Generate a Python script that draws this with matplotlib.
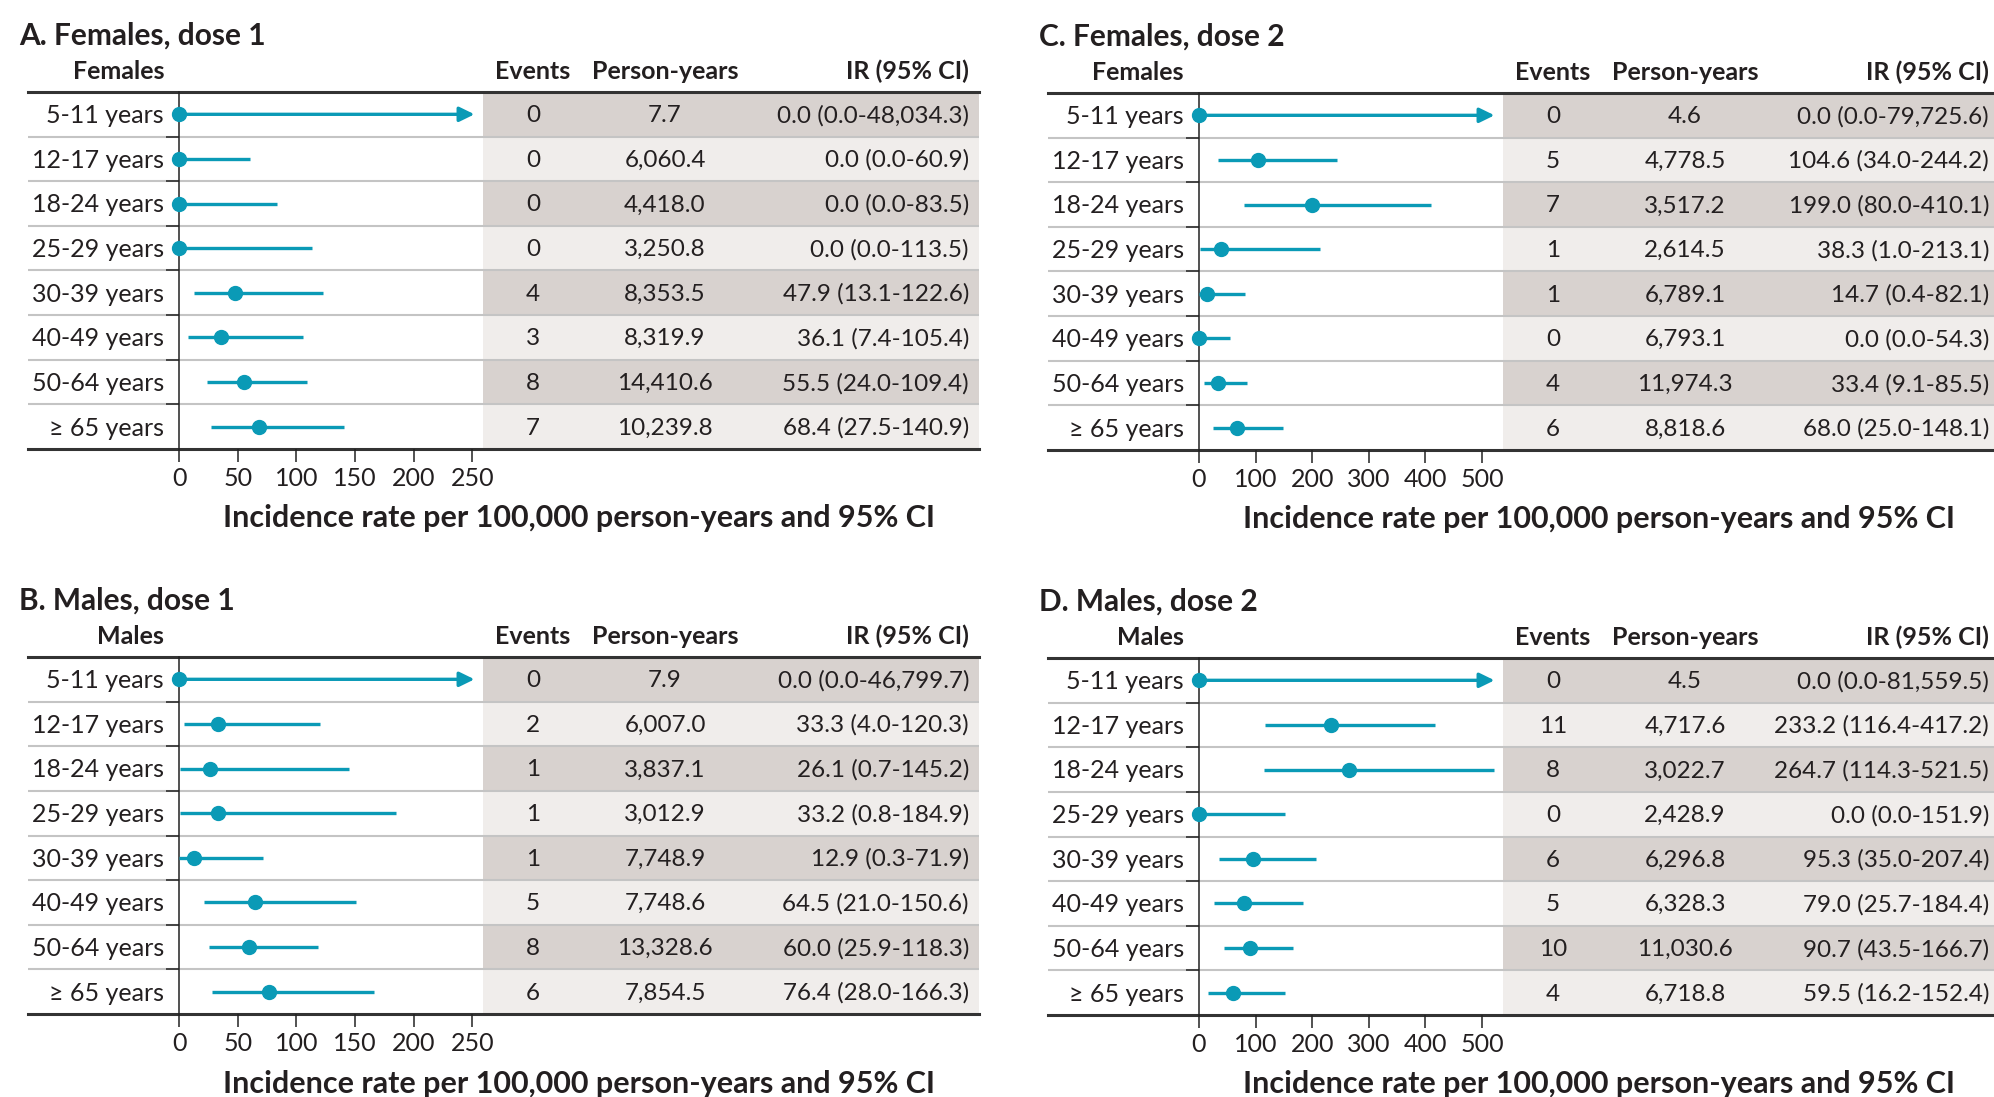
import matplotlib
matplotlib.use("Agg")
import matplotlib.pyplot as plt

plt.rcParams['font.family'] = ['Lato', 'DejaVu Sans']

W, H = 1994, 1097
TEAL = '#0a9ab6'
INK = '#231f20'
DARK_ROW = '#d8d2cf'
LIGHT_ROW = '#f0edeb'
SEP = '#c4c4c4'

age_groups = ['5-11 years', '12-17 years', '18-24 years', '25-29 years',
              '30-39 years', '40-49 years', '50-64 years', '\u2265 65 years']

# A. Females, dose 1
a_events = [0, 0, 0, 0, 4, 3, 8, 7]
a_py = [7.7, 6060.4, 4418.0, 3250.8, 8353.5, 8319.9, 14410.6, 10239.8]
a_ir = [0.0, 0.0, 0.0, 0.0, 47.9, 36.1, 55.5, 68.4]
a_lo = [0.0, 0.0, 0.0, 0.0, 13.1, 7.4, 24.0, 27.5]
a_hi = [48034.3, 60.9, 83.5, 113.5, 122.6, 105.4, 109.4, 140.9]

# B. Males, dose 1
b_events = [0, 2, 1, 1, 1, 5, 8, 6]
b_py = [7.9, 6007.0, 3837.1, 3012.9, 7748.9, 7748.6, 13328.6, 7854.5]
b_ir = [0.0, 33.3, 26.1, 33.2, 12.9, 64.5, 60.0, 76.4]
b_lo = [0.0, 4.0, 0.7, 0.8, 0.3, 21.0, 25.9, 28.0]
b_hi = [46799.7, 120.3, 145.2, 184.9, 71.9, 150.6, 118.3, 166.3]

# C. Females, dose 2
c_events = [0, 5, 7, 1, 1, 0, 4, 6]
c_py = [4.6, 4778.5, 3517.2, 2614.5, 6789.1, 6793.1, 11974.3, 8818.6]
c_ir = [0.0, 104.6, 199.0, 38.3, 14.7, 0.0, 33.4, 68.0]
c_lo = [0.0, 34.0, 80.0, 1.0, 0.4, 0.0, 9.1, 25.0]
c_hi = [79725.6, 244.2, 410.1, 213.1, 82.1, 54.3, 85.5, 148.1]

# D. Males, dose 2
d_events = [0, 11, 8, 0, 6, 5, 10, 4]
d_py = [4.5, 4717.6, 3022.7, 2428.9, 6296.8, 6328.3, 11030.6, 6718.8]
d_ir = [0.0, 233.2, 264.7, 0.0, 95.3, 79.0, 90.7, 59.5]
d_lo = [0.0, 116.4, 114.3, 0.0, 35.0, 25.7, 43.5, 16.2]
d_hi = [81559.5, 417.2, 521.5, 151.9, 207.4, 184.4, 166.7, 152.4]

ticks_dose1 = [0, 50, 100, 150, 200, 250]
ticks_dose2 = [0, 100, 200, 300, 400, 500]

panels = [
    ('A. Females, dose 1', 'Females', a_events, a_py, a_ir, a_lo, a_hi, 259, ticks_dose1, 0, 0),
    ('B. Males, dose 1', 'Males', b_events, b_py, b_ir, b_lo, b_hi, 259, ticks_dose1, 0, 565),
    ('C. Females, dose 2', 'Females', c_events, c_py, c_ir, c_lo, c_hi, 537, ticks_dose2, 1020, 1),
    ('D. Males, dose 2', 'Males', d_events, d_py, d_ir, d_lo, d_hi, 537, ticks_dose2, 1020, 566),
]

fig = plt.figure(figsize=(W / 100, H / 100), dpi=100)


def box(x0, y0, x1, y1):
    # pixel box (top-left origin) -> figure fraction rect
    return [x0 / W, 1 - y1 / H, (x1 - x0) / W, (y1 - y0) / H]


def ftext(x, y, s, **kw):
    fig.text(x / W, 1 - y / H, s, color=INK, **kw)


n = len(age_groups)
for title, group, events, py, ir, lo, hi, xmax, ticks, dx, dy in panels:
    tl, tr = 28 + dx, min(979 + dx, W)
    top, bot = 92 + dy, 449 + dy
    width = tr - tl

    # table part
    tab = fig.add_axes(box(tl, top, tr, bot))
    tab.set_xlim(0, width)
    tab.set_ylim(n, 0)
    tab.axis('off')
    for i in range(n):
        tab.barh(i + 0.5, width - 455, left=455, height=1,
                 color=DARK_ROW if i % 2 == 0 else LIGHT_ROW, zorder=0)
    for i in range(1, n):
        tab.axhline(i, color=SEP, lw=1.5, zorder=1)
    for yy in (0, n):
        tab.axhline(yy, color='#333333', lw=2.2, zorder=2, clip_on=False)
    for i in range(n):
        y = i + 0.53
        tab.text(136, y, age_groups[i], ha='right', va='center', fontsize=18, color=INK)
        tab.text(505, y, f'{events[i]}', ha='center', va='center', fontsize=17.5, color=INK)
        tab.text(637, y, f'{py[i]:,.1f}', ha='center', va='center', fontsize=17.5, color=INK)
        tab.text(941, y, f'{ir[i]:.1f} ({lo[i]:.1f}-{hi[i]:,.1f})', ha='right',
                 va='center', fontsize=17.5, color=INK)

    # forest plot part
    ax = fig.add_axes(box(179 + dx, top, 483 + dx, bot))
    ax.patch.set_alpha(0)
    ax.set_xlim(0, xmax)
    ax.set_ylim(n, 0)
    for s in ('top', 'right', 'bottom'):
        ax.spines[s].set_visible(False)
    ax.spines['left'].set_color('#222222')
    ax.spines['left'].set_linewidth(1.1)
    ax.set_xticks(ticks)
    ax.set_xticklabels([str(t) for t in ticks])
    ax.set_yticks(range(1, n))
    ax.set_yticklabels([])
    ax.tick_params(axis='x', length=9.5, width=1.1, color='#222222', pad=3.5,
                   labelsize=18, labelcolor=INK)
    ax.tick_params(axis='y', length=9.5, width=1.1, color='#222222')
    tip = xmax * 0.972
    for i in range(n):
        y = i + 0.5
        if hi[i] > xmax:
            ax.annotate('', xy=(tip, y), xytext=(lo[i], y),
                        arrowprops=dict(arrowstyle='-|>,head_length=0.45,head_width=0.22',
                                        color=TEAL, lw=2.4, mutation_scale=20,
                                        shrinkA=0, shrinkB=0))
        else:
            ax.plot([lo[i], hi[i]], [y, y], color=TEAL, lw=2.4,
                    solid_capstyle='butt', clip_on=False, zorder=3)
        ax.plot(ir[i], y, 'o', color=TEAL, markersize=10, clip_on=False, zorder=4)

    # headers and titles
    ftext(19 + dx, 36 + dy, title, ha='left', va='center', fontsize=21.5, fontweight='bold')
    ftext(164 + dx, 71.5 + dy, group, ha='right', va='center', fontsize=18, fontweight='bold')
    ftext(533 + dx, 71.5 + dy, 'Events', ha='center', va='center', fontsize=18, fontweight='bold')
    ftext(665 + dx, 71.5 + dy, 'Person-years', ha='center', va='center', fontsize=18, fontweight='bold')
    ftext(969 + dx, 71.5 + dy, 'IR (95% CI)', ha='right', va='center', fontsize=18, fontweight='bold')
    ftext(579 + dx, 518.5 + dy, 'Incidence rate per 100,000 person-years and 95% CI',
          ha='center', va='center', fontsize=22, fontweight='bold')

fig.savefig('out.png', dpi=100, facecolor='white')
